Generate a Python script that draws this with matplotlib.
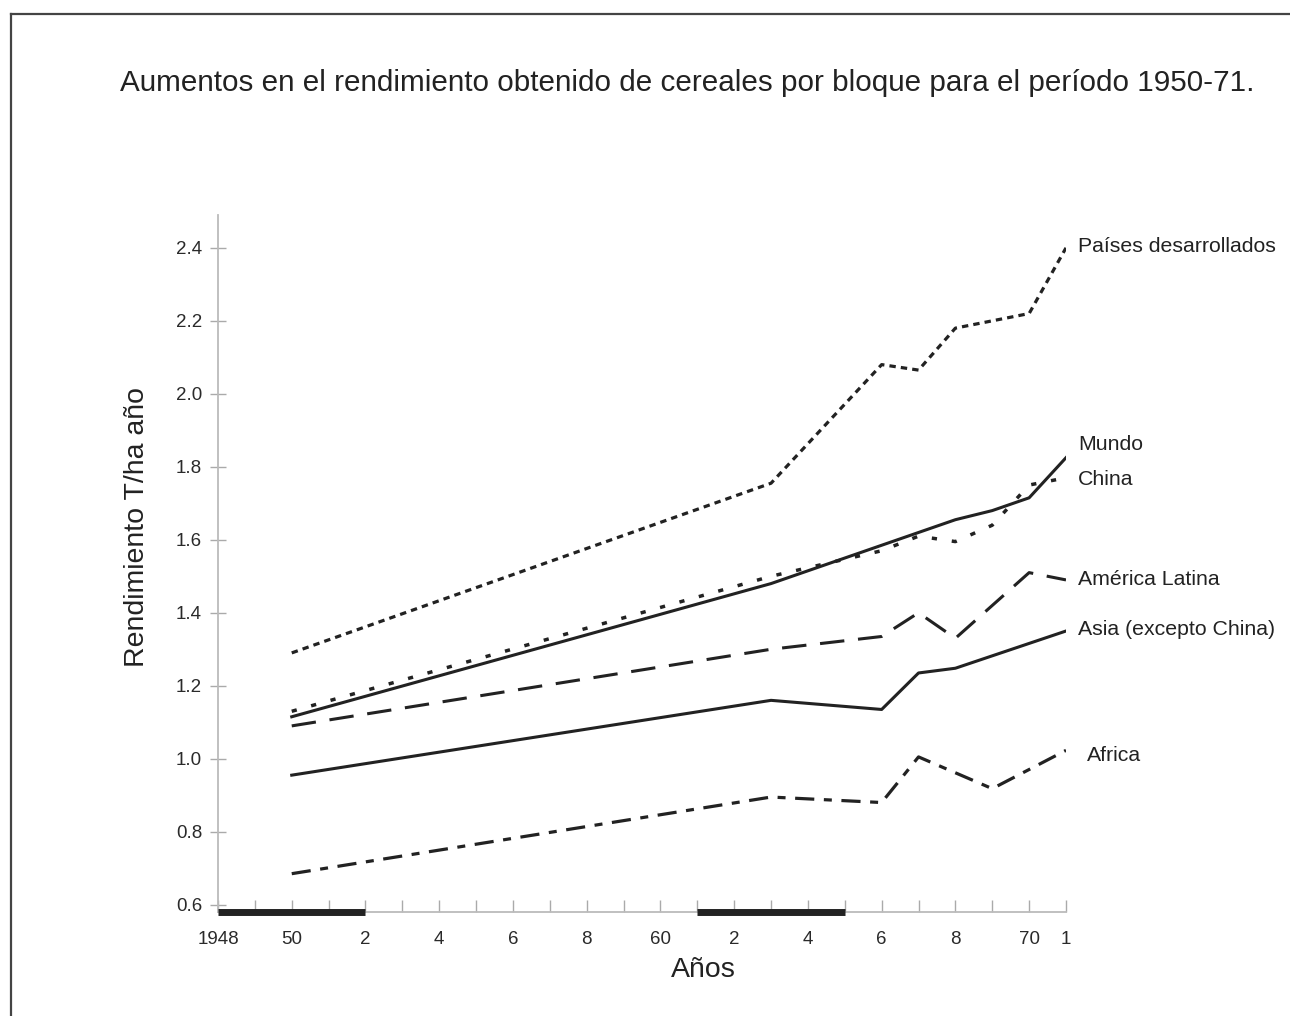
import matplotlib.pyplot as plt
from matplotlib.lines import Line2D

plt.rcParams['font.family'] = ['Liberation Sans', 'DejaVu Sans']

# datos (T/ha)
anios_pd = [1950, 1963, 1966, 1967, 1968, 1970, 1971]
paises_desarrollados = [1.29, 1.755, 2.08, 2.065, 2.18, 2.22, 2.40]

anios_mundo = [1950, 1963, 1968, 1969, 1970, 1971]
mundo = [1.115, 1.48, 1.655, 1.68, 1.715, 1.825]

anios_china = [1950, 1963, 1966, 1967, 1968, 1969, 1970, 1971]
china = [1.13, 1.50, 1.57, 1.61, 1.595, 1.64, 1.75, 1.77]

anios_al = [1950, 1963, 1966, 1967, 1968, 1970, 1971]
america_latina = [1.09, 1.30, 1.335, 1.40, 1.33, 1.51, 1.49]

anios_asia = [1950, 1963, 1966, 1967, 1968, 1971]
asia = [0.955, 1.16, 1.135, 1.235, 1.248, 1.35]

anios_africa = [1950, 1963, 1966, 1967, 1969, 1971]
africa = [0.685, 0.895, 0.88, 1.005, 0.918, 1.023]

# periodos marcados sobre el eje
periodos = [(1948, 1952), (1961, 1965)]

anios_ticks = list(range(1948, 1972))
etiquetas_x = {1948: '1948', 1950: '50', 1952: '2', 1954: '4', 1956: '6', 1958: '8',
               1960: '60', 1962: '2', 1964: '4', 1966: '6', 1968: '8', 1970: '70', 1971: '1'}
y_ticks = [0.6, 0.8, 1.0, 1.2, 1.4, 1.6, 1.8, 2.0, 2.2, 2.4]

c = '#222222'
W, H = 1290, 1016
fig = plt.figure(figsize=(12.9, 10.16), dpi=100)
ax = fig.add_axes([218 / W, 1 - 912 / H, (1066 - 218) / W, (912 - 215) / H])

ax.plot(anios_pd, paises_desarrollados, color=c, lw=2.3, dashes=(2.0, 1.6))
ax.plot(anios_mundo, mundo, color=c, lw=2.2)
ax.plot(anios_china, china, color=c, lw=2.5, dashes=(1.5, 4.3))
ax.plot(anios_al, america_latina, color=c, lw=2.2, dashes=(8, 4.5))
ax.plot(anios_asia, asia, color=c, lw=2.2)
ax.plot(anios_africa, africa, color=c, lw=2.3, dashes=(6, 3, 2.5, 3))

ax.set_xlim(1948, 1971)
ax.set_ylim(0.58, 2.49)

for a, b in periodos:
    ax.plot([a, b], [0.58, 0.58], color=c, lw=5, solid_capstyle='butt', clip_on=False, zorder=5)

ax.set_xticks(anios_ticks)
ax.set_xticklabels([etiquetas_x.get(a, '') for a in anios_ticks])
ax.set_yticks(y_ticks)
ax.set_yticklabels(['%.1f' % v for v in y_ticks])
ax.tick_params(axis='x', direction='in', length=9, width=1, color='#aaaaaa',
               labelsize=13.5, labelcolor='#2a2a2a', pad=14)
ax.tick_params(axis='y', direction='inout', length=11, width=1, color='#aaaaaa',
               labelsize=13.5, labelcolor='#2a2a2a', pad=6)

for s in ['top', 'right']:
    ax.spines[s].set_visible(False)
for s in ['left', 'bottom']:
    ax.spines[s].set_color('#bbbbbb')
    ax.spines[s].set_linewidth(1.3)

fig.text(137 / W, 1 - 527 / H, 'Rendimiento T/ha año', fontsize=20.5, color=c,
         rotation=90, ha='center', va='center')
fig.text(703 / W, 1 - 970 / H, 'Años', fontsize=20.5, color=c, ha='center', va='center')

# etiquetas de las series
etiquetas = [('Países desarrollados', 2.405), ('Mundo', 1.86), ('China', 1.764),
             ('América Latina', 1.491), ('Asia (excepto China)', 1.354)]
for texto, yv in etiquetas:
    ax.text(1971.32, yv, texto, fontsize=15.3, color=c, va='center', ha='left', clip_on=False)
ax.text(1971.57, 1.008, 'Africa', fontsize=15.3, color=c, va='center', ha='left', clip_on=False)

fig.text(120 / W, 1 - 83 / H,
         'Aumentos en el rendimiento obtenido de cereales por bloque para el período 1950-71.',
         fontsize=21.3, color=c, va='center', ha='left')

# marco
fig.add_artist(Line2D([11 / W, 11 / W], [0, 1 - 14 / H], color='#444444', lw=1.6))
fig.add_artist(Line2D([11 / W, 1], [1 - 14 / H, 1 - 14 / H], color='#444444', lw=1.6))

fig.savefig('out.png', dpi=100)
